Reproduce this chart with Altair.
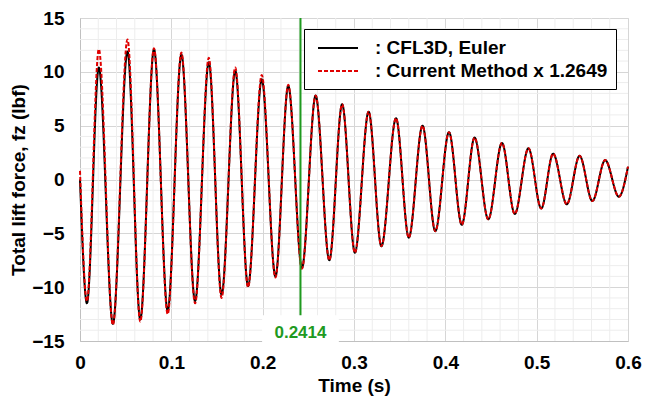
import altair as alt
import pandas as pd

# Extrema (peaks / troughs)
times = [0.0, 0.0076, 0.0206, 0.036, 0.052, 0.066, 0.081, 0.096, 0.111, 0.126, 0.141,
         0.155, 0.170, 0.184, 0.199, 0.214, 0.228, 0.243, 0.258, 0.273, 0.287, 0.301,
         0.316, 0.330, 0.346, 0.360, 0.375, 0.389, 0.404, 0.418, 0.432, 0.447, 0.462,
         0.476, 0.491, 0.505, 0.518, 0.533, 0.547, 0.561, 0.575, 0.590, 0.600]
cfl3d = [0.0, -11.5, 10.4, -13.4, 11.9, -13.0, 12.1, -12.2, 11.6, -11.3, 10.9,
         -10.7, 10.1, -9.9, 9.3, -9.0, 8.7, -8.2, 7.8, -7.5, 7.0, -6.8,
         6.3, -6.2, 5.7, -5.4, 5.0, -4.8, 4.4, -4.2, 3.9, -3.7, 3.4,
         -3.2, 2.9, -2.7, 2.4, -2.3, 2.2, -2.0, 1.8, -1.6, 1.2]
current = [0.8, -11.3, 12.1, -13.5, 13.0, -13.2, 12.2, -12.5, 11.8, -11.5, 11.3,
           -11.0, 10.4, -10.0, 9.7, -9.1, 8.8, -8.3, 7.8, -7.5, 7.0, -6.8,
           6.3, -6.2, 5.7, -5.4, 5.0, -4.8, 4.4, -4.2, 3.9, -3.7, 3.4,
           -3.2, 2.9, -2.7, 2.4, -2.3, 2.2, -2.0, 1.8, -1.6, 1.2]

series_names = ["CFL3D, Euler", "Current Method x 1.2649"]
series_colors = ["#000000", "#e00000"]

marker_time = 0.2414
marker_label = "0.2414"

x_major = [0.0, 0.1, 0.2, 0.3, 0.4, 0.5, 0.6]
y_major = [-15, -10, -5, 0, 5, 10, 15]
x_minor = [round(i * 0.02, 2) for i in range(31) if i % 5 != 0]
y_minor = [v for v in range(-15, 16) if v % 5 != 0]

FONT = "Liberation Sans"
FS = 19
GREEN = "#1f9a1f"

df = pd.DataFrame({
    "t": times * 2,
    "fz": cfl3d + current,
    "series": [series_names[0]] * len(times) + [series_names[1]] * len(times),
})

xscale = alt.Scale(domain=[0, 0.6], nice=False, zero=False)
yscale = alt.Scale(domain=[-15, 15], nice=False, zero=False)

xaxis = alt.Axis(values=x_major, title="Time (s)", format=".1~f", labelFontSize=FS,
                 labelFontWeight="bold", labelFont=FONT, titleFont=FONT, titleFontSize=FS,
                 titleFontWeight="bold", labelPadding=12, titlePadding=4, ticks=False,
                 domainColor="#c0c0c0", gridColor="#d6d6d6", labelColor="black",
                 titleColor="black", labelFlush=False)
yaxis = alt.Axis(values=y_major, title="Total lift force, fz (lbf)", labelFontSize=FS,
                 labelFontWeight="bold", labelFont=FONT, titleFont=FONT, titleFontSize=FS,
                 titleFontWeight="bold", labelPadding=16, titlePadding=3, ticks=False,
                 domainColor="#c0c0c0", gridColor="#d6d6d6", labelColor="black",
                 titleColor="black", labelFlush=False)

minor_x = alt.Chart(pd.DataFrame({"t": x_minor})).mark_rule(color="#ededed", strokeWidth=1).encode(
    x=alt.X("t:Q", scale=xscale, axis=xaxis))
minor_y = alt.Chart(pd.DataFrame({"fz": y_minor})).mark_rule(color="#ededed", strokeWidth=1).encode(
    y=alt.Y("fz:Q", scale=yscale, axis=yaxis))

legend = alt.Legend(orient="none", legendX=224, legendY=11, title=None,
                    strokeColor="black", fillColor="white", padding=8,
                    symbolType="M-2,0H2", symbolSize=400, symbolStrokeWidth=2,
                    symbolOffset=15,
                    labelFont=FONT, labelFontSize=FS, labelFontWeight="bold",
                    labelColor="black", labelOffset=26, rowPadding=2, cornerRadius=0,
                    labelExpr="': ' + datum.label", labelLimit=400)

color_enc = alt.Color("series:N", scale=alt.Scale(domain=series_names, range=series_colors),
                      legend=legend)
dash_enc = alt.StrokeDash("series:N", scale=alt.Scale(domain=series_names, range=[[1, 0], [4, 2]]),
                          legend=legend)

base = alt.Chart(df).mark_line(interpolate="monotone", strokeWidth=2).encode(
    x=alt.X("t:Q", scale=xscale, axis=xaxis),
    y=alt.Y("fz:Q", scale=yscale, axis=yaxis),
    color=color_enc,
    strokeDash=dash_enc,
)
line_black = base.transform_filter(alt.datum.series == series_names[0])
line_red = base.transform_filter(alt.datum.series == series_names[1])

marker_df = pd.DataFrame({"t": [marker_time], "top": [15.0], "bottom": [-12.8],
                          "bx1": [marker_time - 0.042], "bx2": [marker_time + 0.042],
                          "by1": [-12.6], "by2": [-15.6], "ty": [-14.3], "label": [marker_label]})

marker_rule = alt.Chart(marker_df).mark_rule(color=GREEN, strokeWidth=2).encode(
    x="t:Q", y="top:Q", y2="bottom:Q")
marker_box = alt.Chart(marker_df).mark_rect(color="white").encode(
    x="bx1:Q", x2="bx2:Q", y="by1:Q", y2="by2:Q")
marker_text = alt.Chart(marker_df).mark_text(color=GREEN, font=FONT, fontSize=17,
                                              fontWeight="bold", baseline="middle").encode(
    x="t:Q", y="ty:Q", text="label:N")

chart = alt.layer(minor_x, minor_y, line_black, line_red, marker_rule, marker_box, marker_text).properties(
    width=548, height=323,
    autosize=alt.AutoSizeParams(type="none"),
    padding={"left": 72, "top": 10, "right": 14, "bottom": 55},
).configure_view(stroke=None).configure(background="white")

chart.save("out.html", embed_options={"renderer": "svg", "actions": False})
